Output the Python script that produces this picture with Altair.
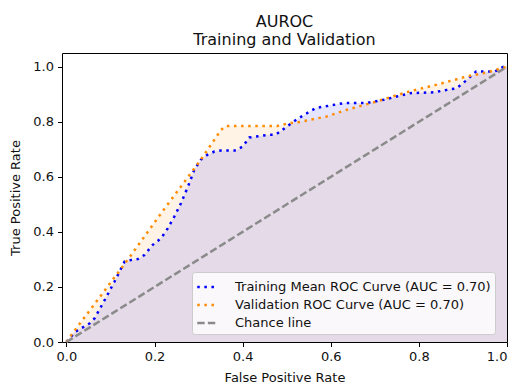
import altair as alt
import pandas as pd

# Training mean ROC curve
fpr_train = [0.0, 0.02, 0.053, 0.064, 0.087, 0.109, 0.132, 0.147, 0.162, 0.177, 0.196, 0.215,
             0.23, 0.245, 0.26, 0.279, 0.29, 0.305, 0.32, 0.336, 0.351, 0.385, 0.40, 0.415,
             0.46, 0.475, 0.498, 0.524, 0.55, 0.566, 0.63, 0.68, 0.72, 0.75, 0.78, 0.833,
             0.864, 0.886, 0.905, 0.93, 0.973, 0.992, 1.0]
tpr_train = [0.0, 0.037, 0.068, 0.086, 0.153, 0.219, 0.292, 0.298, 0.301, 0.316, 0.353, 0.377,
             0.413, 0.456, 0.504, 0.577, 0.625, 0.662, 0.68, 0.692, 0.696, 0.696, 0.71, 0.743,
             0.753, 0.753, 0.78, 0.81, 0.835, 0.85, 0.868, 0.868, 0.88, 0.892, 0.904, 0.907,
             0.916, 0.922, 0.947, 0.983, 0.983, 1.0, 1.0]

# Validation ROC curve
fpr_val = [0.0, 0.011, 0.147, 0.215, 0.305, 0.351, 0.362, 0.479, 0.505, 0.532, 0.592, 0.637,
           0.70, 0.773, 0.848, 0.909, 0.954, 0.99, 1.0]
tpr_val = [0.0, 0.025, 0.316, 0.468, 0.662, 0.771, 0.785, 0.785, 0.795, 0.80, 0.82, 0.844,
           0.872, 0.908, 0.938, 0.965, 0.979, 0.996, 1.0]

# Chance line
fpr_chance = [0.0, 1.0]
tpr_chance = [0.0, 1.0]

series = ["Training Mean ROC Curve (AUC = 0.70)",
          "Validation ROC Curve (AUC = 0.70)",
          "Chance line"]
colors = ["#0000ff", "#ff8c00", "#8a8a8a"]
dashes = [[2.5, 4.6], [2.5, 4.6], [7.4, 3.2]]
widths = [2.5, 2.5, 2.0]

x_ticks = [0.0, 0.2, 0.4, 0.6, 0.8, 1.0]
y_ticks = [0.0, 0.2, 0.4, 0.6, 0.8, 1.0]

rows = []
for i, (f, t) in enumerate(zip(fpr_train, tpr_train)):
    rows.append({"fpr": f, "tpr": t, "series": series[0], "ord": i})
for i, (f, t) in enumerate(zip(fpr_val, tpr_val)):
    rows.append({"fpr": f, "tpr": t, "series": series[1], "ord": i})
for i, (f, t) in enumerate(zip(fpr_chance, tpr_chance)):
    rows.append({"fpr": f, "tpr": t, "series": series[2], "ord": i})
df = pd.DataFrame(rows)

FONT = "DejaVu Sans"

x_scale = alt.Scale(domain=[-0.01, 1.0], nice=False, zero=False)
y_scale = alt.Scale(domain=[0, 1.05], nice=False)
x_enc = alt.X("fpr:Q", scale=x_scale,
              axis=alt.Axis(title="False Positive Rate", values=x_ticks, format=".1f"))
y_enc = alt.Y("tpr:Q", scale=y_scale,
              axis=alt.Axis(title="True Positive Rate", values=y_ticks, format=".1f"),
              stack=None)

leg = alt.Legend(title=None)


def area_layer(name, col):
    return alt.Chart(df).transform_filter(
        alt.datum.series == name
    ).mark_area(fill=col, fillOpacity=0.1, stroke=None, interpolate="linear").encode(
        x=alt.X("fpr:Q", scale=x_scale),
        y=alt.Y("tpr:Q", scale=y_scale, stack=None),
    )


area_train = area_layer(series[0], colors[0])
area_val = area_layer(series[1], colors[1])

lines = alt.Chart(df).mark_line(interpolate="linear").encode(
    x=x_enc, y=y_enc,
    color=alt.Color("series:N", scale=alt.Scale(domain=series, range=colors),
                    sort=series, legend=leg),
    strokeDash=alt.StrokeDash("series:N", scale=alt.Scale(domain=series, range=dashes),
                              sort=series, legend=leg),
    strokeWidth=alt.StrokeWidth("series:N", scale=alt.Scale(domain=series, range=widths),
                                sort=series, legend=leg),
    order="ord:Q",
)

chart = alt.layer(area_val, area_train, lines).properties(
    width=445, height=289,
    title=alt.TitleParams(["AUROC", "Training and Validation"], baseline="bottom",
                          lineHeight=18, offset=8, dy=19),
    autosize=alt.AutoSizeParams(type="none"),
    padding={"left": 62, "top": 53, "right": 8, "bottom": 42},
).configure(
    font=FONT,
).configure_view(
    stroke="#000000", strokeWidth=1,
).configure_axis(
    grid=False, domain=False,
    tickColor="#000000", tickSize=4.5, tickWidth=1,
    labelFont=FONT, labelFontSize=13, labelColor="#111111", labelPadding=4,
    titleFont=FONT, titleFontSize=13, titleFontWeight="normal", titleColor="#111111",
).configure_axisX(
    titlePadding=8,
).configure_axisY(
    titlePadding=10,
).configure_title(
    font=FONT, fontSize=16, fontWeight="normal", color="#111111",
    anchor="middle",
).configure_legend(
    orient="none", legendX=130, legendY=219,
    fillColor="rgba(255,255,255,0.8)", strokeColor="#cccccc", cornerRadius=3,
    padding=4, labelFont=FONT, labelFontSize=13, labelColor="#111111",
    labelLimit=400, symbolType="stroke", symbolSize=380, labelOffset=17,
    rowPadding=0, symbolStrokeWidth=2.5,
)

chart.save("out.html", embed_options={"renderer": "svg", "actions": False})
